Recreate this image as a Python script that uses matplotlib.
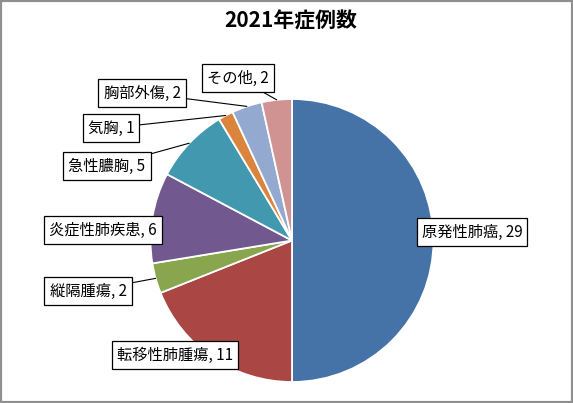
import numpy as np
import matplotlib
matplotlib.use("Agg")
import matplotlib.pyplot as plt
from matplotlib.patches import Rectangle

plt.rcParams['font.family'] = ['Noto Sans CJK JP', 'DejaVu Sans']

# data
categories = ['原発性肺癌', '転移性肺腫瘍', '縦隔腫瘍', '炎症性肺疾患',
              '急性膿胸', '気胸', '胸部外傷', 'その他']
counts = [29, 11, 2, 6, 5, 1, 2, 2]
colors = ['#4572A7', '#AA4643', '#89A54E', '#71588F',
          '#4198AF', '#DB843D', '#93A9CF', '#D19392']

# label box centres in pixel coords (top-left origin) and whether a leader is drawn
label_pos = [(472, 232), (175, 355), (88, 291), (103, 230),
             (107, 166), (111, 128), (142, 93), (238, 78)]
leader = [False, False, True, False, True, True, True, True]

W, H = 573, 403
fig = plt.figure(figsize=(W / 100, H / 100), dpi=100)
ax = fig.add_axes([0, 0, 1, 1])

cx, cy, r = 292, H - 240.5, 141.5
wedges, _ = ax.pie(counts, colors=colors, startangle=90, counterclock=False,
                   center=(cx, cy), radius=r, frame=True,
                   wedgeprops=dict(edgecolor='white', linewidth=1.3))
ax.set_xlim(0, W)
ax.set_ylim(0, H)
ax.set_aspect('equal')
ax.axis('off')

for w, name, n, (px, py), ld in zip(wedges, categories, counts, label_pos, leader):
    text = f'{name}, {n}'
    bbox = dict(boxstyle='square,pad=0.33', fc='white', ec='black', lw=0.9)
    if ld:
        mid = np.deg2rad((w.theta1 + w.theta2) / 2)
        ex = w.center[0] + w.r * np.cos(mid)
        ey = w.center[1] + w.r * np.sin(mid)
        ax.annotate(text, xy=(ex, ey), xytext=(px, H - py),
                    ha='center', va='center', fontsize=11, bbox=bbox,
                    arrowprops=dict(arrowstyle='-', color='black', lw=0.8,
                                    shrinkA=0, shrinkB=0))
    else:
        ax.text(px, H - py, text, ha='center', va='center',
                fontsize=11, bbox=bbox)

ax.text(291, H - 21, '2021年症例数', ha='center', va='center',
        fontsize=15, fontweight='bold')

fig.patches.append(Rectangle((0, 0), 1, 1, transform=fig.transFigure,
                             fill=False, edgecolor='#8f8f8f', linewidth=3))

fig.savefig('out.png', dpi=100)
